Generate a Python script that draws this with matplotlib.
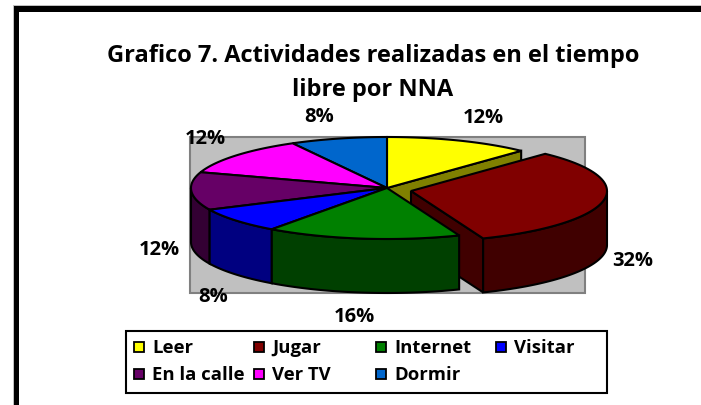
import numpy as np
import matplotlib
matplotlib.use('Agg')
import matplotlib.pyplot as plt
from matplotlib.patches import Polygon, Rectangle

categories = ['Leer', 'Jugar', 'Internet', 'Visitar', 'En la calle', 'Ver TV', 'Dormir']
values = [12, 32, 16, 8, 12, 12, 8]
top_colors = ['#FFFF00', '#800000', '#008000', '#0000FF', '#660066', '#FF00FF', '#0066CC']
side_colors = ['#808000', '#400000', '#004000', '#000080', '#330033', '#800080', '#003366']
title_lines = ['Grafico 7. Actividades realizadas en el tiempo', 'libre por NNA']

plt.rcParams['font.family'] = ['Open Sans', 'DejaVu Sans']

# whole figure is one axes in pixel coordinates
fig = plt.figure(figsize=(7.01, 4.06), dpi=100)
ax = fig.add_axes([0, 0, 1, 1])
ax.set_xlim(0, 701)
ax.set_ylim(406, 0)
ax.axis('off')

# black frame, only top and left, thin grey line outside it
ax.add_patch(Rectangle((13, 6), 688, 1, fc='#C0C0C0', ec='none'))
ax.add_patch(Rectangle((13, 6), 1, 400, fc='#C0C0C0', ec='none'))
ax.add_patch(Rectangle((14, 7), 687, 6, fc='black', ec='none'))
ax.add_patch(Rectangle((14, 7), 5, 399, fc='black', ec='none'))

ax.text(373, 56, title_lines[0], ha='center', va='center', fontsize=17, fontweight='bold')
ax.text(373, 90, title_lines[1], ha='center', va='center', fontsize=17, fontweight='bold')

# plot area
ax.add_patch(Rectangle((190, 138), 395, 156, fc='#C0C0C0', ec='#808080', lw=1.5, zorder=1))

cx, cy = 387, 189
rx, ry = 196, 51
depth = 54
explode = [(0, 0), (24, 3), (0, 0), (0, 0), (0, 0), (0, 0), (0, 0)]


def rim(a, off):
    # a is the angle clockwise from 12 o'clock, radians
    return np.column_stack([cx + off[0] + rx * np.sin(a), cy + off[1] - ry * np.cos(a)])


fracs = np.array(values) / sum(values)
ends = np.cumsum(fracs) * 2 * np.pi
starts = ends - fracs * 2 * np.pi

# yellow cut face behind the exploded slice
p = rim(np.array([ends[0]]), explode[0])[0]
ax.add_patch(Polygon([(cx, cy), p, (p[0], p[1] + depth), (cx, cy + depth)],
                     fc=side_colors[0], ec='black', lw=1.5, zorder=2))

# back slices first, then the front ones
order = [0, 6, 5, 1, 4, 3, 2]
z = 3
for i in order:
    off = explode[i]
    a = np.linspace(starts[i], ends[i], 60)
    edge = rim(a, off)
    centre = (cx + off[0], cy + off[1])
    if i == 1:
        # radial wall on the closing side of the exploded slice
        e = edge[-1]
        ax.add_patch(Polygon([centre, e, (e[0], e[1] + depth), (centre[0], centre[1] + depth)],
                             fc=side_colors[i], ec='black', lw=1.5, zorder=z))
    lo = max(starts[i], np.pi / 2)
    hi = min(ends[i], 3 * np.pi / 2)
    if hi > lo:
        w = rim(np.linspace(lo, hi, 60), off)
        low = w[::-1] + [0, depth]
        ax.add_patch(Polygon(np.vstack([w, low]), fc=side_colors[i], ec='black', lw=1.5, zorder=z))
    ax.add_patch(Polygon(np.vstack([[centre], edge]), fc=top_colors[i], ec='black', lw=1.5, zorder=z + 1))
    z += 2

# percent labels, same order as the values
label_pos = [(483, 118), (633, 261), (354, 317), (213, 297), (159, 250), (205, 139), (319, 117)]
for v, (lx, ly) in zip(values, label_pos):
    ax.text(lx, ly, f'{v}%', ha='center', va='center', fontsize=14.5, fontweight='bold', zorder=30)

# legend
ax.add_patch(Rectangle((126, 332), 481, 62, fc='white', ec='black', lw=1.5, zorder=30))
col_x = [134, 254, 376, 496, 134, 254, 376]
row_y = [348, 348, 348, 348, 375, 375, 375]
for name, col, lx, ly in zip(categories, top_colors, col_x, row_y):
    ax.add_patch(Rectangle((lx, ly - 5), 10, 10, fc=col, ec='black', lw=1.3, zorder=31))
    ax.text(lx + 18, ly, name, ha='left', va='center', fontsize=13.3, fontweight='bold', zorder=31)

fig.savefig('out.png', dpi=100)
